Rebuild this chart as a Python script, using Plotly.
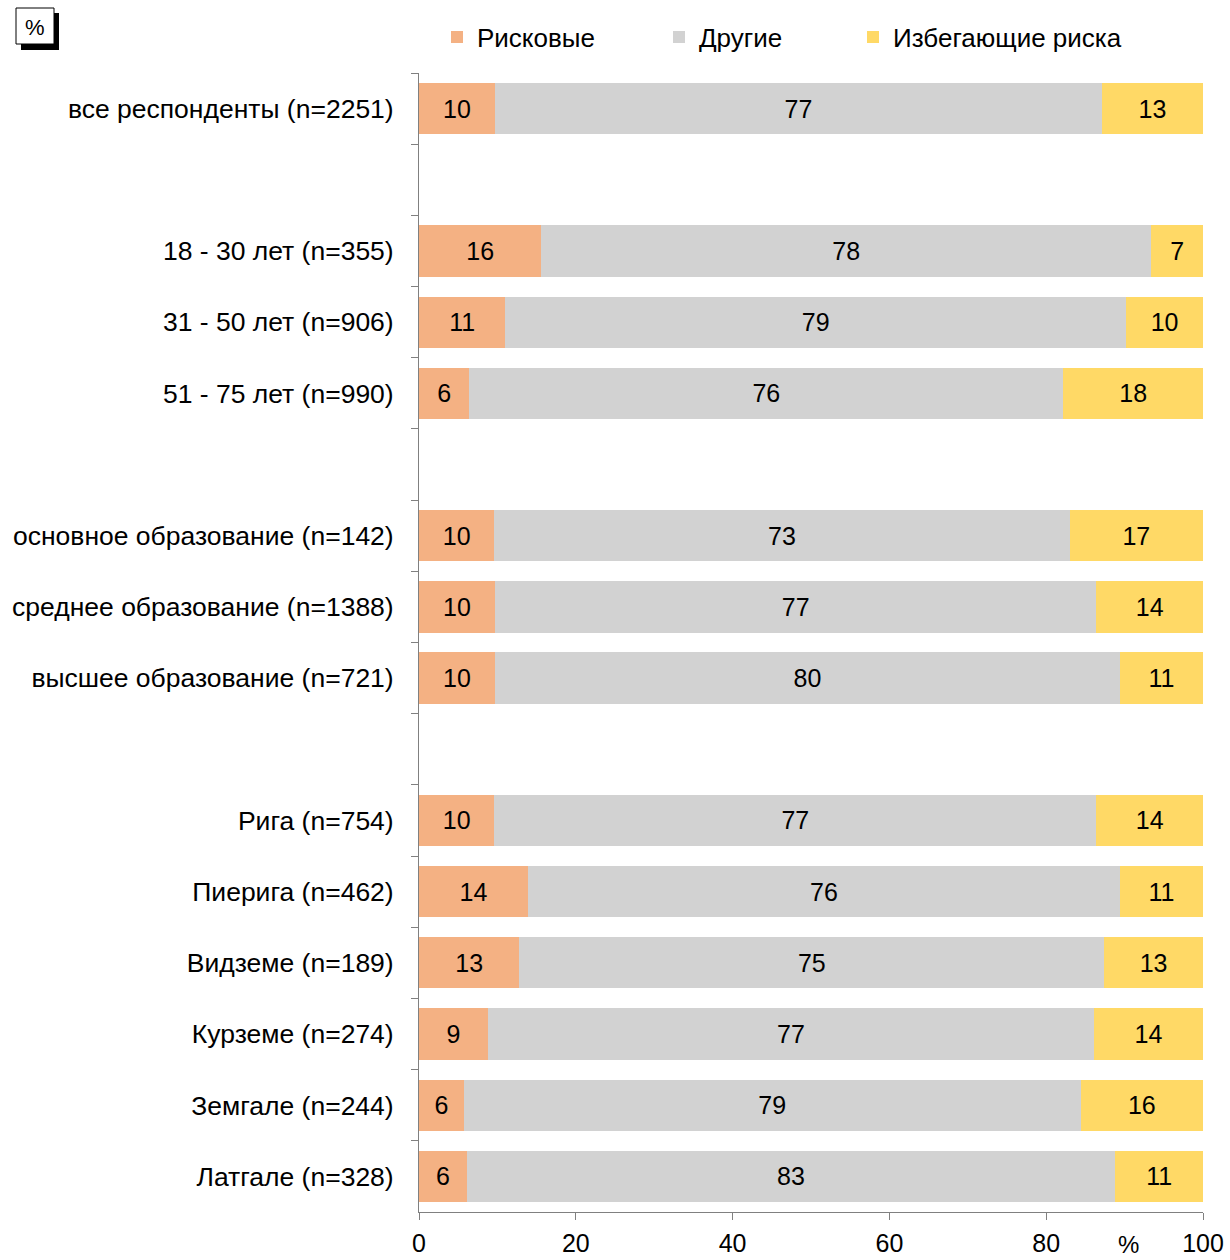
import plotly.graph_objects as go

categories = [
    "все респонденты (n=2251)", " ",
    "18 - 30 лет (n=355)", "31 - 50 лет (n=906)", "51 - 75 лет (n=990)", "  ",
    "основное образование (n=142)", "среднее образование (n=1388)", "высшее образование (n=721)", "   ",
    "Рига (n=754)", "Пиерига (n=462)", "Видземе (n=189)", "Курземе (n=274)", "Земгале (n=244)", "Латгале (n=328)",
]
risky = [9.7, None, 15.6, 11.0, 6.4, None, 9.6, 9.7, 9.7, None, 9.6, 13.9, 12.8, 8.8, 5.7, 6.1]
other = [77.4, None, 77.8, 79.2, 75.8, None, 73.4, 76.7, 79.7, None, 76.8, 75.5, 74.6, 77.3, 78.7, 82.7]
avoid = [12.9, None, 6.6, 9.8, 17.8, None, 17.0, 13.6, 10.6, None, 13.6, 10.6, 12.6, 13.9, 15.6, 11.2]
series_names = ["Рисковые", "Другие", "Избегающие риска"]
colors = ["#F4B183", "#D2D2D2", "#FFD966"]
x_ticks = [0, 20, 40, 60, 80, 100]

W, H = 1230, 1260
L, R, T, B = 419, 27, 73, 48
PW, PH = W - L - R, H - T - B


def px2x(px):
    return (px - L) / PW


def py2y(py):
    return (H - B - py) / PH


FONT = "Liberation Sans, Arial, sans-serif"
fig = go.Figure()
legend_ids = ["legend", "legend2", "legend3"]
for name, vals, col, lg in zip(series_names, [risky, other, avoid], colors, legend_ids):
    fig.add_trace(go.Bar(
        y=categories, x=vals, name=name, orientation="h",
        marker=dict(color=col, line=dict(width=0)),
        texttemplate="%{x:.0f}", textposition="inside", insidetextanchor="middle",
        textangle=0, constraintext="none",
        textfont=dict(family=FONT, size=25, color="black"),
        legend=lg, hoverinfo="skip",
    ))

legend_common = dict(orientation="h", font=dict(family=FONT, size=26, color="black"),
                     bgcolor="rgba(0,0,0,0)", borderwidth=0, xanchor="left", yanchor="middle",
                     itemclick=False, itemdoubleclick=False)
leg_left = [437, 659, 853]
fig.update_layout(
    legend=dict(x=px2x(leg_left[0]), y=py2y(37), **legend_common),
    legend2=dict(x=px2x(leg_left[1]), y=py2y(37), **legend_common),
    legend3=dict(x=px2x(leg_left[2]), y=py2y(37), **legend_common),
)

fig.update_layout(
    template="none", autosize=False,
    width=W, height=H, barmode="stack", bargap=0.28,
    margin=dict(l=L, r=R, t=T, b=B, pad=0, autoexpand=False),
    paper_bgcolor="white", plot_bgcolor="white",
    font=dict(family=FONT, size=26, color="black"),
    xaxis=dict(range=[0, 100], tickvals=x_ticks, ticktext=[str(v) for v in x_ticks],
               showgrid=False, zeroline=False, showline=True, linecolor="#808080", linewidth=1,
               ticks="outside", ticklen=7, tickcolor="#808080", tickwidth=1, automargin=False,
               ticklabelstandoff=2,
               tickfont=dict(family=FONT, size=25, color="black")),
    yaxis=dict(categoryorder="array", categoryarray=categories, autorange="reversed",
               showgrid=False, zeroline=False, showline=True, linecolor="#808080", linewidth=1,
               ticks="outside", ticklen=7, tickcolor="#808080", tickwidth=1, tickson="boundaries",
               ticklabelstandoff=19, automargin=False,
               tickfont=dict(family=FONT, size=26.5, color="black")),
    showlegend=True,
)

# bottom "%" unit label
fig.add_annotation(text="%", xref="paper", yref="paper", x=px2x(1128), y=py2y(1259),
                   xanchor="center", yanchor="bottom", showarrow=False, borderpad=0,
                   font=dict(family=FONT, size=24, color="black"))

# top-left "%" box with shadow
fig.add_shape(type="rect", xref="paper", yref="paper",
              x0=px2x(21), x1=px2x(59), y0=py2y(13), y1=py2y(50),
              fillcolor="black", line=dict(width=0), layer="above")
fig.add_shape(type="rect", xref="paper", yref="paper",
              x0=px2x(16), x1=px2x(54), y0=py2y(8), y1=py2y(44),
              fillcolor="white", line=dict(color="black", width=1), layer="above")
fig.add_annotation(text="%", xref="paper", yref="paper", x=px2x(35), y=py2y(27),
                   xanchor="center", yanchor="middle", showarrow=False,
                   font=dict(family=FONT, size=22, color="black"))

fig.write_html("out.html", post_script="document.body.style.margin='0';",
               config={"displayModeBar": False})
